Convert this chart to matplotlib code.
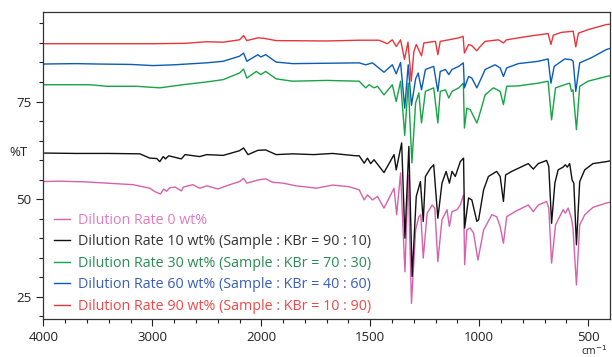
import numpy as np
import matplotlib
matplotlib.use("Agg")
import matplotlib.pyplot as plt
from matplotlib.lines import Line2D

plt.rcParams['font.family'] = ['Open Sans', 'DejaVu Sans']

# ---- data (wavenumber cm-1, %T) ----
pink_w = [4000, 3848, 3600, 3420, 3177, 3024, 2975, 2926, 2895, 2870, 2841, 2790, 2734, 2715,
          2628, 2566, 2500, 2398, 2300, 2200, 2163, 2133, 2080, 2031, 1980, 1947, 1901, 1840,
          1790, 1749, 1710, 1673, 1600, 1551, 1528, 1513, 1490, 1467, 1437, 1391, 1379, 1361,
          1341, 1326, 1311, 1292, 1277, 1268, 1257, 1239, 1216, 1204, 1190, 1171, 1148, 1137,
          1125, 1102, 1087, 1072, 1067, 1057, 1041, 1026, 1006, 980, 942, 920, 904, 889, 874,
          836, 775, 752, 729, 691, 681, 668, 650, 615, 605, 592, 577, 570, 554, 539, 516, 478,
          417, 400]
pink_t = [54.5, 54.6, 54.4, 54.1, 53.7, 52.8, 51.9, 51.3, 52.6, 52.0, 52.9, 53.1, 52.1, 53.1,
          53.7, 52.8, 53.4, 52.6, 53.6, 54.5, 55.3, 54.1, 54.5, 54.9, 55.2, 54.3, 54.1, 53.4,
          53.1, 52.8, 53.2, 53.6, 53.2, 52.4, 49.8, 51.1, 49.8, 50.7, 47.7, 52.8, 46.0, 56.7,
          31.4, 56.2, 23.3, 42.1, 45.5, 46.0, 34.9, 46.4, 48.5, 47.7, 34.0, 44.7, 47.3, 43.0,
          46.8, 47.3, 48.5, 51.1, 33.2, 42.1, 42.6, 41.3, 34.4, 42.1, 46.0, 45.5, 43.0, 38.7, 45.5,
          46.8, 48.5, 46.8, 48.5, 49.4, 47.7, 33.6, 43.4, 47.3, 46.4, 47.7, 45.1, 42.6, 28.0, 43.4,
          46.0, 47.9, 49.0, 49.2]

black_w = [4000, 3700, 3400, 3115, 3024, 2960, 2932, 2900, 2880, 2850, 2734, 2700, 2566, 2500,
           2350, 2200, 2163, 2122, 2031, 1980, 1932, 1856, 1760, 1673, 1566, 1551, 1528, 1513,
           1498, 1483, 1437, 1391, 1381, 1356, 1341, 1323, 1308, 1289, 1270, 1257, 1247, 1224,
           1209, 1190, 1171, 1152, 1137, 1125, 1110, 1087, 1072, 1067, 1049, 1034, 1011, 1003,
           980, 958, 920, 904, 889, 879, 851, 775, 752, 729, 691, 681, 668, 653, 638, 615, 605,
           596, 585, 574, 566, 554, 539, 516, 478, 417, 400]
black_t = [61.8, 61.7, 61.7, 61.6, 60.5, 60.4, 59.6, 60.9, 60.3, 61.1, 60.3, 61.4, 60.9, 61.4,
           61.2, 62.4, 63.1, 61.4, 62.5, 62.6, 61.4, 61.6, 61.4, 61.7, 61.1, 61.1, 59.2, 60.5,
           59.1, 60.1, 56.8, 61.4, 57.5, 64.4, 40.0, 63.5, 30.2, 50.7, 54.5, 44.3, 55.8, 57.9,
           58.8, 45.1, 54.1, 57.1, 54.1, 57.1, 55.8, 59.6, 60.5, 42.6, 50.3, 49.8, 44.3, 44.7,
           52.4, 55.8, 57.1, 55.8, 49.4, 56.2, 57.1, 59.1, 57.7, 59.1, 59.9, 58.4, 43.8, 54.1,
           57.5, 58.2, 58.8, 58.2, 59.1, 54.9, 54.1, 38.3, 54.5, 57.5, 59.1, 59.6, 59.8]

green_w = [4000, 3573, 3420, 3150, 2932, 2719, 2505, 2350, 2200, 2163, 2133, 2046, 2005, 1980,
           1932, 1856, 1700, 1551, 1521, 1505, 1483, 1467, 1437, 1399, 1381, 1361, 1342, 1326,
           1309, 1292, 1277, 1265, 1247, 1209, 1190, 1179, 1155, 1140, 1125, 1094, 1073, 1068,
           1057, 1041, 1011, 1003, 973, 935, 904, 889, 874, 821, 729, 684, 668, 650, 608, 585,
           577, 570, 554, 539, 501, 417, 400]
green_t = [79.3, 79.3, 78.9, 78.9, 78.5, 79.3, 80.0, 80.6, 82.3, 83.3, 81.0, 82.7, 81.9, 82.7,
           80.8, 80.2, 80.4, 80.2, 78.5, 79.3, 78.5, 78.9, 76.7, 79.3, 75.0, 80.2, 66.3, 79.7,
           59.3, 74.6, 77.2, 69.5, 77.6, 78.5, 69.5, 77.6, 78.0, 75.9, 77.6, 78.5, 79.7, 68.2,
           73.3, 72.9, 69.5, 70.8, 76.7, 78.5, 77.6, 74.2, 78.9, 79.0, 79.7, 80.2, 70.3, 78.5,
           79.3, 79.7, 77.6, 78.0, 67.8, 78.9, 80.2, 81.4, 81.6]

blue_w = [4000, 3700, 3500, 3200, 2994, 2800, 2505, 2350, 2200, 2163, 2133, 2031, 2005, 1980,
          1932, 1856, 1700, 1551, 1521, 1490, 1437, 1399, 1381, 1361, 1342, 1326, 1311, 1292,
          1280, 1265, 1247, 1209, 1190, 1179, 1155, 1140, 1125, 1094, 1073, 1068, 1049, 1034,
          1011, 980, 973, 927, 904, 889, 874, 821, 729, 684, 671, 656, 608, 577, 569, 557, 539,
          486, 417, 400]
blue_t = [84.6, 84.7, 84.6, 84.5, 84.2, 84.4, 84.9, 85.3, 86.6, 87.4, 85.3, 87.0, 86.4, 87.0,
          85.1, 84.7, 84.8, 84.9, 84.4, 84.9, 82.5, 84.4, 82.1, 85.0, 73.3, 84.4, 74.0, 80.8,
          82.3, 78.0, 83.2, 84.0, 77.6, 82.7, 83.2, 81.9, 83.2, 84.0, 84.9, 78.5, 81.4, 81.0,
          78.5, 82.3, 83.2, 84.4, 83.6, 81.4, 83.6, 84.7, 85.3, 85.9, 79.7, 84.0, 85.9, 85.7,
          85.3, 77.6, 84.9, 86.2, 88.3, 88.6]

red_w = [4000, 3500, 3000, 2700, 2505, 2350, 2200, 2163, 2133, 2031, 1990, 1932, 1700, 1551,
         1460, 1422, 1399, 1381, 1361, 1343, 1327, 1312, 1300, 1289, 1265, 1254, 1201, 1190,
         1179, 1140, 1094, 1074, 1068, 1049, 1034, 1011, 1000, 973, 912, 889, 875, 775, 684,
         671, 660, 623, 569, 557, 545, 501, 417, 400]
red_t = [89.8, 89.8, 89.8, 89.9, 90.3, 90.2, 90.8, 91.9, 90.6, 91.3, 91.2, 90.6, 90.5, 90.7,
         90.7, 89.8, 90.8, 89.1, 90.8, 85.8, 90.2, 80.2, 87.8, 89.6, 86.7, 90.0, 90.4, 87.0,
         90.4, 90.8, 91.3, 91.7, 87.4, 89.6, 89.3, 88.0, 88.8, 90.4, 90.8, 90.0, 90.8, 91.7,
         92.4, 89.6, 92.0, 92.7, 93.0, 89.0, 92.5, 93.4, 94.7, 94.8]

labels = ["Dilution Rate 0 wt%",
          "Dilution Rate 10 wt% (Sample : KBr = 90 : 10)",
          "Dilution Rate 30 wt% (Sample : KBr = 70 : 30)",
          "Dilution Rate 60 wt% (Sample : KBr = 40 : 60)",
          "Dilution Rate 90 wt% (Sample : KBr = 10 : 90)"]
line_colors = ['#d462ac', '#111111', '#17a346', '#0b5cb5', '#e8353c']
text_colors = ['#e07cc4', '#333333', '#2a8c55', '#3a5fb5', '#f04848']

x_major = [4000, 3000, 2000, 1500, 1000, 500]
y_major = [25, 50, 75]

# ---- figure ----
fig = plt.figure(figsize=(6.12, 3.57), dpi=100)
ax = fig.add_axes([43.4 / 612, 1 - 319 / 357, (610 - 43.4) / 612, (319 - 11.7) / 357])


def fwd(w):
    w = np.asarray(w, dtype=float)
    return np.where(w >= 2000, w, 2 * w - 2000)


def inv(t):
    t = np.asarray(t, dtype=float)
    return np.where(t >= 2000, t, (t + 2000) / 2)


ax.set_xscale('function', functions=(fwd, inv))

series = [(pink_w, pink_t), (black_w, black_t), (green_w, green_t), (blue_w, blue_t), (red_w, red_t)]
for (w, t), c in zip(series, line_colors):
    ax.plot(w, t, color=c, lw=1.0)

ax.set_xlim(4000, 400)
ax.set_ylim(19.3, 98)
ax.set_xticks(x_major)
ax.set_xticklabels([str(v) for v in x_major])
minor_x = list(range(3800, 2000, -200)) + list(range(1900, 400, -100))
minor_x = [m for m in minor_x if m not in x_major]
ax.set_xticks(minor_x, minor=True)
ax.set_yticks(y_major)
ax.set_yticks([v for v in range(20, 98, 5) if v not in y_major], minor=True)

ax.tick_params(axis='both', which='major', length=5, width=0.8, color='#222222',
               labelsize=9.5, labelcolor='#222222', direction='out')
ax.tick_params(axis='both', which='minor', length=3, width=0.8, color='#222222', direction='out')
for s in ax.spines.values():
    s.set_color('#333333')
    s.set_linewidth(0.9)

fig.text(19 / 612, 1 - 152 / 357, '%T', ha='center', va='center', fontsize=9.5, color='#222222')
fig.text(608 / 612, 1 - 351 / 357, 'cm$^{-1}$', ha='right', va='center', fontsize=7.5, color='#222222')

handles = [Line2D([0], [0], color=c, lw=1.0) for c in line_colors]
leg = ax.legend(handles, labels, loc='upper left', bbox_to_anchor=(0.018, 0.345),
                frameon=False, fontsize=10.3, handlelength=1.13, handletextpad=0.55,
                labelspacing=0.45, borderpad=0, borderaxespad=0, labelcolor=text_colors)

fig.savefig('out.png', dpi=100)
